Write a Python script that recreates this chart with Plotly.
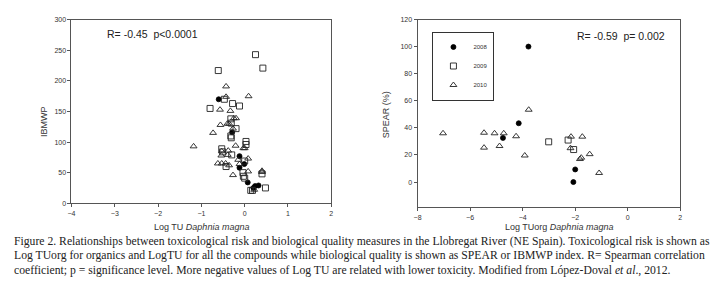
import plotly.graph_objects as go

# ---------------- Left panel: IBMWP vs Log TU ----------------
l08_x = [-0.60, -0.29, -0.12, -0.01, -0.12, 0.07, 0.24, 0.32, 0.20]
l08_y = [170, 116, 77, 64, 58, 34, 28, 29, 25]

l09_x = [0.25, 0.42, -0.61, -0.47, -0.28, -0.12, -0.80, -0.32, -0.31, -0.20, -0.31, 0.03,
         0.03, -0.53, -0.51, -0.30, 0.00, -0.43, -0.04, 0.40, -0.03, 0.00, 0.14, 0.18, 0.48, -0.32]
l09_y = [243, 221, 217, 170, 163, 159, 155, 138, 131, 122, 107, 101,
         96, 89, 84, 79, 69, 60, 50, 48, 44, 41, 21, 21, 25, 110]

l10_x = [-0.43, -0.43, 0.09, -0.57, -0.33, -0.25, -0.20, -0.56, -0.40, -0.36, -0.27, -0.73,
         -1.18, -0.21, -0.03, -0.38, -0.53, -0.54, -0.39, -0.15, 0.08, -0.62, -0.53, -0.44,
         -0.36, -0.12, 0.08, 0.40, 0.40, -0.27, 0.22, 0.00]
l10_y = [191, 174, 175, 153, 151, 139, 139, 128, 130, 130, 122, 115,
         93, 94, 90, 86, 85, 78, 79, 71, 73, 65, 65, 65,
         62, 64, 52, 51, 53, 46, 22, 90]

# ---------------- Right panel: SPEAR vs Log TUorg ----------------
r08_x = [-3.78, -4.15, -4.75, -2.00, -2.07]
r08_y = [100, 43.4, 32.6, 9.3, 0]

r09_x = [-3.01, -2.27, -2.06]
r09_y = [29.7, 31.0, 24.0]

r10_x = [-7.03, -5.47, -5.07, -4.72, -5.47, -4.88, -4.25, -3.77, -3.92, -2.16, -1.73,
         -2.18, -1.77, -1.82, -1.45, -1.09]
r10_y = [36, 36.4, 36, 36, 25.4, 26.6, 33.8, 53.4, 19.6, 33.5, 33.5,
         25, 18, 17, 20.6, 6.7]

years = ["2008", "2009", "2010"]

caption = [
    "Figure 2. Relationships between toxicological risk and biological quality measures in the Llobregat River (NE Spain). Toxicological risk is shown as",
    "Log TUorg for organics and LogTU for all the compounds while biological quality is shown as SPEAR or IBMWP index. R= Spearman correlation",
    "coefficient; p = significance level. More negative values of Log TU are related with lower toxicity. Modified from López-Doval <i>et al</i>., 2012.",
]

sty = {
    "2008": dict(symbol="circle", size=5, color="black", line=dict(color="black", width=0.8)),
    "2009": dict(symbol="square-open", size=6, color="#222", line=dict(width=0.9)),
    "2010": dict(symbol="triangle-up-open", size=6, color="#222", line=dict(width=0.9)),
}

fig = go.Figure()
for yr, xs, ys in zip(years, [l08_x, l09_x, l10_x], [l08_y, l09_y, l10_y]):
    fig.add_trace(go.Scatter(x=xs, y=ys, mode="markers", marker=sty[yr], name=yr,
                             xaxis="x", yaxis="y", showlegend=False))
for yr, xs, ys in zip(years, [r08_x, r09_x, r10_x], [r08_y, r09_y, r10_y]):
    fig.add_trace(go.Scatter(x=xs, y=ys, mode="markers", marker=sty[yr], name=yr,
                             xaxis="x2", yaxis="y2", showlegend=True))

# the page body adds an 8 px margin; positions below are in reference pixels
OFF = 8
W, H = 712, 286


def px(x):
    return (x - OFF) / W


def py(y):
    return 1 - (y - OFF) / H


axfont = dict(family="Liberation Sans, Arial", size=7, color="#333")
common = dict(showgrid=False, zeroline=False, showline=True, linecolor="#555", linewidth=1,
              mirror=True, ticks="outside", ticklen=3, tickcolor="#555", tickfont=axfont)

fig.update_layout(
    width=W, height=H, margin=dict(l=0, r=0, t=0, b=0),
    paper_bgcolor="white", plot_bgcolor="white",
    xaxis=dict(domain=[px(68), px(330)], range=[-4, 2], tickvals=[-4, -3, -2, -1, 0, 1, 2],
               anchor="y", **common),
    yaxis=dict(domain=[py(204), py(16)], range=[0, 300], tickvals=[0, 50, 100, 150, 200, 250, 300],
               anchor="x", **common),
    xaxis2=dict(domain=[px(417), px(682)], range=[-8, 2], tickvals=[-8, -6, -4, -2, 0, 2],
                anchor="y2", **common),
    yaxis2=dict(domain=[py(208), py(15.7)], range=[-18.5, 120], tickvals=[0, 20, 40, 60, 80, 100, 120],
                anchor="x2", **common),
    legend=dict(x=px(432), y=py(28), xanchor="left", yanchor="top",
                bordercolor="#333", borderwidth=1, bgcolor="white",
                font=dict(family="Liberation Sans, Arial", size=6, color="#333"),
                itemwidth=30, tracegroupgap=0),
    showlegend=True,
)

tfont = dict(family="Liberation Sans, Arial", size=9, color="#333")
rfont = dict(family="Liberation Sans, Arial", size=10.5, color="#222")
ann = [
    dict(text="R= -0.45  p<0.0001", x=px(102), y=py(31), xanchor="left", yanchor="middle", font=rfont),
    dict(text="R= -0.59  p= 0.002", x=px(576), y=py(33), xanchor="left", yanchor="middle", font=rfont),
    dict(text="IBMWP", x=px(41), y=py(120), textangle=-90, xanchor="center", yanchor="middle", font=tfont),
    dict(text="SPEAR (%)", x=px(386), y=py(113), textangle=-90, xanchor="center", yanchor="middle", font=tfont),
    dict(text="Log TU <i>Daphnia magna</i>", x=px(199), y=py(228), xanchor="center", yanchor="middle", font=tfont),
    dict(text="Log TUorg <i>Daphnia magna</i>", x=px(560), y=py(228), xanchor="center", yanchor="middle", font=tfont),
]
for i, line in enumerate(caption):
    ann.append(dict(text=line, x=px(8), y=py(243 + 15 * i), xanchor="left", yanchor="middle",
                    font=dict(family="Liberation Serif, serif", size=11.7, color="#222")))
for a in ann:
    a.update(xref="paper", yref="paper", showarrow=False)
fig.update_layout(annotations=ann)

fig.write_html("out.html")
